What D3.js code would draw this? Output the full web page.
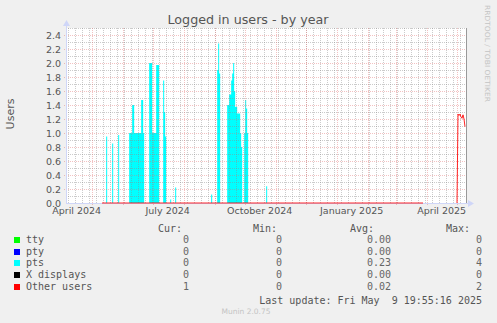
<!DOCTYPE html>
<html>
<head>
<meta charset="utf-8" />
<title>Logged in users - by year</title>
<script src="https://d3js.org/d3.v7.min.js"></script>
<style>
  body { margin: 0; background: #f0f0f0; }
  text { font-family: "DejaVu Sans", sans-serif; fill: #555; }
  .mono { font-family: "DejaVu Sans Mono", monospace; white-space: pre; }
</style>
</head>
<body>
<script>

// time window shown (munin year graph = 400 days up to last update)
var startTime = "2024-04-04T19:55:00Z";
var endTime = "2025-05-09T19:55:00Z";

// pts: value holds from each date until the next one
var ptsDates = ["2024-05-08","2024-05-15","2024-05-16","2024-05-21","2024-05-22","2024-05-27","2024-05-28",
  "2024-06-07","2024-06-10","2024-06-12","2024-06-19","2024-06-21","2024-06-22",
  "2024-06-27","2024-06-30","2024-07-04","2024-07-07",
  "2024-07-11","2024-07-12","2024-07-13","2024-07-14",
  "2024-07-18","2024-07-19","2024-07-23","2024-07-24","2024-08-28","2024-08-29",
  "2024-09-03","2024-09-04","2024-09-05","2024-09-06",
  "2024-09-13","2024-09-15","2024-09-17","2024-09-18","2024-09-19","2024-09-20","2024-09-21","2024-09-23","2024-09-26","2024-09-27","2024-09-28",
  "2024-09-30","2024-10-01","2024-10-02","2024-10-03","2024-10-04",
  "2024-10-22","2024-10-23","2025-05-09"];
var ptsValues = [0,0.95,0,0.85,0,0.97,0,
  1.0,1.4,1.0,1.47,1.0,0,
  2.0,1.0,1.97,0,
  1.75,1.3,0.95,0,
  0.05,0,0.22,0,0.12,0,
  1.9,2.28,1.85,0,
  1.4,1.55,1.75,1.85,2.0,1.6,1.37,1.28,1.0,0.8,0,
  1.0,1.47,1.35,1.0,0,
  0.24,0,0];

// other users (line), null = no data
var otherDates = ["2024-05-10T19:55:00Z","2025-03-27T19:55:00Z","2025-03-28T19:55:00Z",
  "2025-04-30T19:55:00Z","2025-05-01T19:55:00Z","2025-05-02T19:55:00Z","2025-05-03T19:55:00Z",
  "2025-05-04T19:55:00Z","2025-05-05T19:55:00Z","2025-05-06T19:55:00Z","2025-05-07T19:55:00Z","2025-05-08T19:55:00Z"];
var otherValues = [0,0,null,0,1.27,1.25,1.27,1.23,1.21,1.26,1.2,1.09];

var yTicks = [0,0.2,0.4,0.6,0.8,1.0,1.2,1.4,1.6,1.8,2.0,2.2,2.4];
var xLabelDates = ["2024-04-15","2024-07-15","2024-10-15","2025-01-15","2025-04-15"];
var xLabels = ["April 2024","July 2024","October 2024","January 2025","April 2025"];

var legendNames = ["tty","pty","pts","X displays","Other users"];
var legendColors = ["#00ff00","#0000ff","#00ffff","#000000","#ff0000"];
var curVals = ["0","0","0","0","1"];
var minVals = ["0","0","0","0","0"];
var avgVals = ["0.00","0.00","0.23","0.00","0.02"];
var maxVals = ["0","0","4","0","2"];

var W = 497, H = 323;
var pL = 66, pR = 466, pT = 28, pB = 203;

var svg = d3.select("body").append("svg")
  .attr("width", W).attr("height", H);

svg.append("rect").attr("width", W).attr("height", H).attr("fill", "#f0f0f0");
svg.append("rect").attr("x", pL).attr("y", pT)
  .attr("width", pR - pL).attr("height", pB - pT).attr("fill", "#fff");

var x = d3.scaleUtc().domain([new Date(startTime), new Date(endTime)]).range([pL, pR]);
var y = d3.scaleLinear().domain([0, 2.5]).range([pB, pT]);

// data
var pts = ptsDates.map(function(d, i){ return { t: new Date(d + "T00:00:00Z"), v: ptsValues[i] }; });
svg.append("path")
  .datum(pts)
  .attr("fill", "#00ffff")
  .attr("d", d3.area().curve(d3.curveStepAfter)
    .x(function(d){ return x(d.t); })
    .y0(y(0))
    .y1(function(d){ return y(d.v); }));

// grid
var g = svg.append("g").attr("shape-rendering", "crispEdges").attr("stroke-dasharray", "1,1");
var px = function(v){ return Math.round(v) + 0.5; };
var minorCol = "rgba(140,140,140,0.45)", majorCol = "rgba(225,110,110,0.42)";

var minorY = d3.range(1, 26).filter(function(i){ return i % 2 == 1; }).map(function(i){ return i / 10; });
g.selectAll(".hmin").data(minorY).enter().append("line")
  .attr("x1", pL).attr("x2", pR)
  .attr("y1", function(d){ return px(y(d)); }).attr("y2", function(d){ return px(y(d)); })
  .attr("stroke", minorCol);

var weeks = d3.utcSunday.range(x.domain()[0], x.domain()[1]);
g.selectAll(".vmin").data(weeks).enter().append("line")
  .attr("y1", pT).attr("y2", pB)
  .attr("x1", function(d){ return px(x(d)); }).attr("x2", function(d){ return px(x(d)); })
  .attr("stroke", minorCol);

g.selectAll(".hmaj").data(yTicks.slice(1)).enter().append("line")
  .attr("x1", pL - 2).attr("x2", pR + 2)
  .attr("y1", function(d){ return px(y(d)); }).attr("y2", function(d){ return px(y(d)); })
  .attr("stroke", majorCol);

var months = d3.utcMonth.range(x.domain()[0], x.domain()[1]);
g.selectAll(".vmaj").data(months).enter().append("line")
  .attr("y1", pT).attr("y2", pB + 2)
  .attr("x1", function(d){ return px(x(d)); }).attr("x2", function(d){ return px(x(d)); })
  .attr("stroke", majorCol);

// right edge rule
svg.append("line").attr("x1", pR + 0.5).attr("x2", pR + 0.5)
  .attr("y1", pT).attr("y2", pB).attr("stroke", "#999");

// axes lines + arrows
var axisCol = "#cfd6f8";
svg.append("line").attr("x1", pL + 0.5).attr("x2", pL + 0.5).attr("y1", pB + 1).attr("y2", 24)
  .attr("stroke", axisCol);
svg.append("line").attr("x1", pL).attr("x2", 470).attr("y1", pB + 0.5).attr("y2", pB + 0.5)
  .attr("stroke", axisCol);
svg.append("path").attr("d", "M63,26 L70,26 L66.5,20 Z").attr("fill", axisCol);
svg.append("path").attr("d", "M468,200 L468,207 L474,203.5 Z").attr("fill", axisCol);

// other users line
var other = otherDates.map(function(d, i){ return { t: new Date(d), v: otherValues[i] }; });
svg.append("path")
  .datum(other)
  .attr("fill", "none")
  .attr("stroke", "#ff0000")
  .attr("stroke-opacity", 0.85)
  .attr("stroke-width", 1)
  .attr("d", d3.line()
    .defined(function(d){ return d.v !== null; })
    .x(function(d){ return x(d.t); })
    .y(function(d){ return y(d.v); }));

// y axis labels
var yAxis = svg.append("g").attr("transform", "translate(" + pL + ",0)")
  .call(d3.axisLeft(y).tickValues(yTicks).tickSize(0).tickPadding(5).tickFormat(d3.format(".1f")));
yAxis.select(".domain").remove();
yAxis.selectAll("text").attr("dy", "0.4em")
  .style("font-family", "DejaVu Sans").style("font-size", "9.5px").style("fill", "#555");

// x axis labels
var xAxis = svg.append("g").attr("transform", "translate(0," + pB + ")")
  .call(d3.axisBottom(x)
    .tickValues(xLabelDates.map(function(d){ return new Date(d + "T00:00:00Z"); }))
    .tickSize(0).tickPadding(4.5)
    .tickFormat(function(d, i){ return xLabels[i]; }));
xAxis.select(".domain").remove();
xAxis.selectAll("text")
  .style("font-family", "DejaVu Sans").style("font-size", "9.5px").style("fill", "#555");

// title
svg.append("text").attr("x", 248).attr("y", 24).attr("text-anchor", "middle")
  .style("font-size", "12.7px").text("Logged in users - by year");

// vertical axis title
svg.append("text").attr("transform", "translate(14,114) rotate(-90)")
  .attr("text-anchor", "middle").style("font-size", "11px").text("Users");

// rrdtool credit
svg.append("text").attr("transform", "translate(485,5) rotate(90)")
  .attr("textLength", 97).attr("lengthAdjust", "spacingAndGlyphs")
  .style("font-size", "7px").style("fill", "#c4c4c4").text("RRDTOOL / TOBI OETIKER");

// legend
var legY = [243, 255, 266, 278, 290];
var hdr = [["Cur:", 182], ["Min:", 277], ["Avg:", 374], ["Max:", 470]];
hdr.forEach(function(h){
  svg.append("text").attr("class", "mono").attr("x", h[1]).attr("y", 232)
    .attr("text-anchor", "end").style("font-size", "10px").style("fill", "#555").text(h[0]);
});

var rows = svg.selectAll(".leg").data(legendNames).enter().append("g");
rows.append("rect").attr("x", 14).attr("y", function(d, i){ return legY[i] - 6; })
  .attr("width", 6).attr("height", 6)
  .attr("fill", function(d, i){ return legendColors[i]; });
rows.append("text").attr("class", "mono").attr("x", 26).attr("y", function(d, i){ return legY[i]; })
  .style("font-size", "10px").style("fill", "#555").text(function(d){ return d; });

var cols = [[curVals, 189], [minVals, 282], [avgVals, 391], [maxVals, 482]];
cols.forEach(function(c){
  svg.selectAll(null).data(c[0]).enter().append("text").attr("class", "mono")
    .attr("x", c[1]).attr("y", function(d, i){ return legY[i]; })
    .attr("text-anchor", "end").style("font-size", "10px").style("fill", "#666")
    .text(function(d){ return d; });
});

svg.append("text").attr("class", "mono").attr("x", 482).attr("y", 304)
  .attr("text-anchor", "end").style("font-size", "10px").style("fill", "#555")
  .text("Last update: Fri May  9 19:55:16 2025");

svg.append("text").attr("x", 246).attr("y", 314).attr("text-anchor", "middle")
  .style("font-size", "7.5px").style("fill", "#c4c4c4").text("Munin 2.0.75");

</script>
</body>
</html>
